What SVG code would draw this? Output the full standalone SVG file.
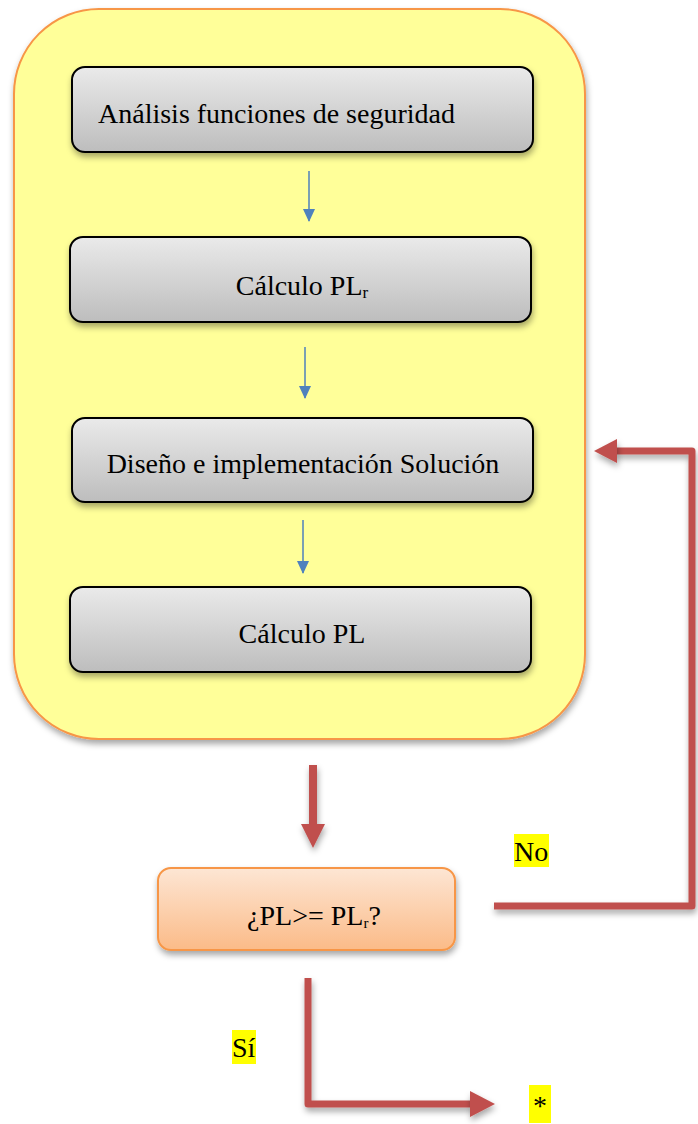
<svg xmlns="http://www.w3.org/2000/svg" width="698" height="1124" viewBox="0 0 698 1124">
  <defs>
    <linearGradient id="gGray" x1="0" y1="0" x2="0" y2="1">
      <stop offset="0" stop-color="#eaeaea"/>
      <stop offset="1" stop-color="#bdbdbd"/>
    </linearGradient>
    <linearGradient id="gOrange" x1="0" y1="0" x2="0" y2="1">
      <stop offset="0" stop-color="#fde6d4"/>
      <stop offset="1" stop-color="#fbbb88"/>
    </linearGradient>
    <filter id="shadow" filterUnits="userSpaceOnUse" x="0" y="0" width="698" height="1124">
      <feDropShadow dx="1" dy="4" stdDeviation="3" flood-color="#000" flood-opacity="0.35"/>
    </filter>
    <marker id="blueHead" markerWidth="13" markerHeight="12" refX="12" refY="6" orient="auto" markerUnits="userSpaceOnUse" viewBox="0 0 13 12">
      <path d="M0,0 L13,6 L0,12 Z" fill="#4f81bd"/>
    </marker>
  </defs>
  <style>
    .step { fill: url(#gGray); stroke: #000; stroke-width: 2; filter: url(#shadow); }
    .label { font-family: "Liberation Serif", "Times New Roman", serif; font-size: 28px; fill: #000; }
    .blue { stroke: #4f81bd; stroke-width: 1.5; fill: none; }
    .red { stroke: #c0504d; stroke-width: 7; fill: none; stroke-linejoin: round; filter: url(#shadow); }
    .redFill { fill: #c0504d; filter: url(#shadow); }
    .tag { fill: #ffff00; }
  </style>

  <!-- process container -->
  <g id="container">
    <rect x="14" y="9" width="571" height="730" rx="85" ry="85" fill="#ffff99" stroke="#f79646" stroke-width="2" filter="url(#shadow)"/>
  </g>

  <g id="n1">
    <rect class="step" x="72" y="67" width="461" height="85" rx="13"/>
    <text class="label" x="98" y="123">Análisis funciones de seguridad</text>
  </g>
  <g id="n2">
    <rect class="step" x="70" y="237" width="461" height="85" rx="13"/>
    <text class="label" x="302" y="295" text-anchor="middle">Cálculo PL<tspan font-size="17" dy="3">r</tspan></text>
  </g>
  <g id="n3">
    <rect class="step" x="72" y="418" width="461" height="84" rx="13"/>
    <text class="label" x="303" y="473" text-anchor="middle">Diseño e implementación Solución</text>
  </g>
  <g id="n4">
    <rect class="step" x="70" y="587" width="461" height="85" rx="13"/>
    <text class="label" x="302" y="643" text-anchor="middle">Cálculo PL</text>
  </g>
  <g id="decision">
    <rect x="158" y="868" width="297" height="82" rx="13" fill="url(#gOrange)" stroke="#f79646" stroke-width="2" filter="url(#shadow)"/>
    <text class="label" x="314" y="925" text-anchor="middle" font-size="25">¿PL&gt;= PL<tspan font-size="15" dy="3">r</tspan><tspan dy="-3">?</tspan></text>
  </g>

  <g id="connectors">
    <!-- blue steps inside the container -->
    <line class="blue" x1="309" y1="171" x2="309" y2="221" marker-end="url(#blueHead)"/>
    <line class="blue" x1="305" y1="347" x2="305" y2="398" marker-end="url(#blueHead)"/>
    <line class="blue" x1="303" y1="520" x2="303" y2="573" marker-end="url(#blueHead)"/>

    <!-- container to decision -->
    <path class="redFill" d="M309,765 L317,765 L317,824 L325,824 L313,848 L301,824 L309,824 Z"/>

    <!-- "No" loop back to design step -->
    <path class="red" d="M494,906 L692,906 L692,451 L615,451"/>
    <path class="redFill" d="M594,451 L617,439 L617,463 Z"/>

    <!-- "Sí" exit -->
    <path class="red" d="M308,978 L308,1104 L472,1104"/>
    <path class="redFill" d="M470,1091 L495,1104 L470,1117 Z"/>
  </g>

  <g id="tags">
    <rect class="tag" x="514" y="834" width="35" height="33"/>
    <text class="label" x="514" y="861">No</text>
    <rect class="tag" x="232" y="1030" width="24" height="34"/>
    <text class="label" x="232" y="1057">Sí</text>
    <rect class="tag" x="529" y="1085" width="22" height="38"/>
    <text class="label" x="540" y="1115" font-size="48" text-anchor="middle">*</text>
  </g>
</svg>
